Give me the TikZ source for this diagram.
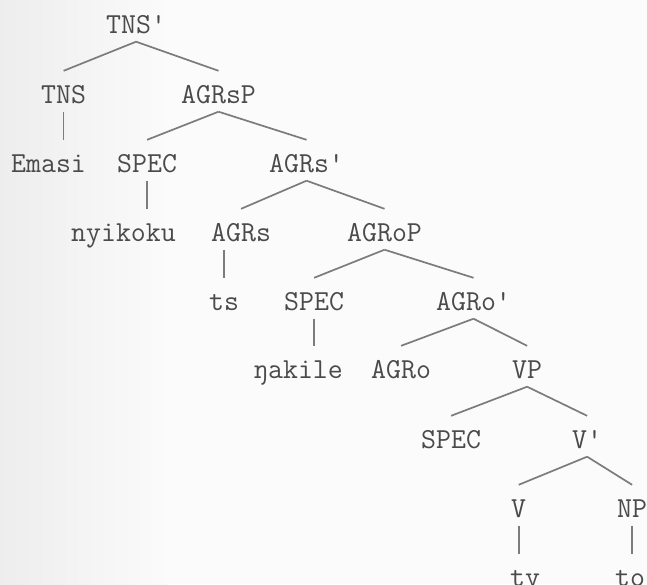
\documentclass[tikz,border=0pt]{standalone}
\usepackage{xcolor}
\usepackage{tikz}
\usetikzlibrary{positioning}
\definecolor{ink}{HTML}{4A4A4A}
\definecolor{branch}{HTML}{7C7C7C}
\definecolor{paper}{HTML}{FBFBFB}

\begin{document}
\begin{tikzpicture}[x=1pt,y=-1pt,
  lab/.style={anchor=base west,inner sep=0pt,text height=32pt,text depth=8.5pt,text=ink,font=\fontsize{29}{34}\selectfont\ttfamily},
  br/.style={branch,line width=1.7pt}]
\useasboundingbox (0,0) rectangle (647,584);
\clip (0,0) rectangle (647,584);
\fill[paper] (0,0) rectangle (647,584);
\shade[left color=gray!14,right color=paper] (0,0) rectangle (170,584);
% --- TNS' and its daughters
\node[lab] (tnsbar) at (106,33) {TNS'};
\node[lab] (tns) at (41,103) {TNS};
\node[lab] (agrsp) at (181,103) {AGRsP};
\node[lab] (emasi) at (11,172) {Emasi};
\node[lab] (spec1) at (117,172) {SPEC};
\node[lab] (agrsbar) at (269,172) {AGRs'};
% --- subject agreement
\node[lab] (nyikoku) at (71,241) {nyikoku};
\node[lab] (agrs) at (211,241) {AGRs};
\node[lab] (agrop) at (347,241) {AGRoP};
\node[lab] (ts) at (209,310) {ts};
\node[lab] (spec2) at (284,310) {SPEC};
\node[lab] (agrobar) at (436,310) {AGRo'};
% --- object agreement
\node[lab] (nakile) at (253,378) {ŋakile};
\node[lab] (agro) at (371,378) {AGRo};
\node[lab] (vp) at (512,378) {VP};
% --- VP
\node[lab] (spec3) at (421,448) {SPEC};
\node[lab] (vbar) at (572,448) {V'};
\node[lab] (v) at (511,517) {V};
\node[lab] (np) at (617,517) {NP};
\node[lab] (ty) at (510,586) {ty};
\node[lab] (to) at (615,586) {to};
% --- branches
\foreach \p/\c in {tnsbar/tns,tnsbar/agrsp,agrsp/spec1,agrsp/agrsbar,agrsbar/agrs,agrsbar/agrop,
  agrop/spec2,agrop/agrobar,agrobar/agro,agrobar/vp,vp/spec3,vp/vbar,vbar/v,vbar/np}
  {\draw[br] (\p.south) -- (\c.north);}
\foreach \p/\c in {tns/emasi,spec1/nyikoku,spec2/nakile,v/ty,np/to}
  {\draw[br] (\p.south) -- (\p.south |- \c.north);}
\draw[br] (ts.north |- agrs.south) -- (ts.north);
\end{tikzpicture}
\end{document}
